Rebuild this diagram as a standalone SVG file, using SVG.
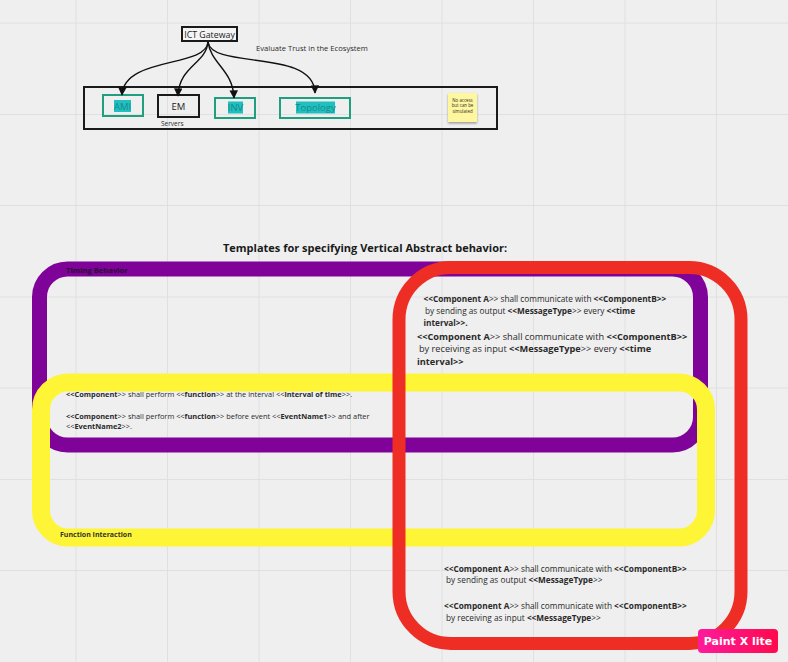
<svg xmlns="http://www.w3.org/2000/svg" width="788" height="662" viewBox="0 0 788 662">
<defs>
<style>
text{font-family:"Open Sans","Liberation Sans",sans-serif;fill:#2a2a2a}
.b{font-weight:700}
.grid line{stroke:#e0e0e0;stroke-width:1}
.conn path{fill:none;stroke:#111;stroke-width:1.4}
.teal{fill:none;stroke:#1f9e80;stroke-width:2}
.hl{fill:#20c0c0}
.tt{fill:#198a8a}
.t8{font-size:8.25px}
.t9{font-size:9.2px}
.t65{font-size:7.4px}
</style>
<marker id="ah" viewBox="0 0 10 10" refX="9" refY="5" markerWidth="12" markerHeight="8.5" markerUnits="userSpaceOnUse" orient="auto">
<path d="M0,0 L10,5 L0,10 z" fill="#111"/>
</marker>
<linearGradient id="pk" x1="0" y1="0" x2="1" y2="0">
<stop offset="0" stop-color="#ff1a9c"/>
<stop offset="1" stop-color="#ff0a4e"/>
</linearGradient>
<filter id="sh" x="-20%" y="-20%" width="140%" height="150%">
<feDropShadow dx="0" dy="1.5" stdDeviation="1" flood-color="#000" flood-opacity="0.35"/>
</filter>
</defs>
<rect width="788" height="662" fill="#efefef"/>
<g class="grid">
<line x1="76" y1="0" x2="76" y2="662"/>
<line x1="167.5" y1="0" x2="167.5" y2="662"/>
<line x1="259" y1="0" x2="259" y2="662"/>
<line x1="350.5" y1="0" x2="350.5" y2="662"/>
<line x1="442" y1="0" x2="442" y2="662"/>
<line x1="533.5" y1="0" x2="533.5" y2="662"/>
<line x1="625" y1="0" x2="625" y2="662"/>
<line x1="716.5" y1="0" x2="716.5" y2="662"/>
<line x1="0" y1="23" x2="788" y2="23"/>
<line x1="0" y1="114.5" x2="788" y2="114.5"/>
<line x1="0" y1="205.5" x2="788" y2="205.5"/>
<line x1="0" y1="297" x2="788" y2="297"/>
<line x1="0" y1="388" x2="788" y2="388"/>
<line x1="0" y1="479.5" x2="788" y2="479.5"/>
<line x1="0" y1="570.5" x2="788" y2="570.5"/>
</g>

<g id="container">
<rect x="84" y="87" width="413" height="42" fill="none" stroke="#1a1a1a" stroke-width="2"/>
</g>
<g id="ict-gateway">
<rect x="182" y="27" width="55" height="14" fill="#f4f4f4" stroke="#1a1a1a" stroke-width="2"/>
<text x="209.5" y="37.5" font-size="8.8" text-anchor="middle" style="fill:#222">ICT Gateway</text>
</g>
<g id="label-evaluate">
<text x="256" y="51" font-size="7.6">Evaluate Trust in the Ecosystem</text>
</g>
<g id="ami">
<rect class="teal" x="103" y="95" width="40" height="21"/>
<rect class="hl" x="114" y="100" width="17" height="12"/>
<text class="tt" x="122.5" y="109.5" font-size="9.5" text-anchor="middle">AMI</text>
</g>
<g id="em">
<rect x="158" y="95" width="41" height="22" fill="none" stroke="#1a1a1a" stroke-width="2"/>
<text x="178.5" y="109.5" font-size="9.5" text-anchor="middle" style="fill:#222">EM</text>
<text x="161" y="125.5" font-size="6.5">Servers</text>
</g>
<g id="inv">
<rect class="teal" x="215" y="98" width="40" height="20"/>
<rect class="hl" x="228" y="101.5" width="15" height="12"/>
<text class="tt" x="235.5" y="111" font-size="9.5" text-anchor="middle">INV</text>
</g>
<g id="topology">
<rect class="teal" x="280" y="98" width="70" height="20"/>
<rect class="hl" x="296" y="101.5" width="39" height="12"/>
<text class="tt" x="315.5" y="111" font-size="9.5" text-anchor="middle">Topology</text>
</g>
<g id="sticky-note">
<rect x="448" y="93" width="29" height="29" fill="#fff6a0" filter="url(#sh)"/>
<text x="462.5" y="101.5" font-size="4.4" text-anchor="middle">No access</text>
<text x="462.5" y="107" font-size="4.4" text-anchor="middle">but can be</text>
<text x="462.5" y="112.5" font-size="4.4" text-anchor="middle">simulated</text>
</g>

<g class="conn" id="connectors">
<path d="M208,42 C206,68 124,56 122,95" marker-end="url(#ah)"/>
<path d="M208,42 C206,64 179,66 178,96" marker-end="url(#ah)"/>
<path d="M208,42 C211,64 233,70 234,98" marker-end="url(#ah)"/>
<path d="M208,42 C212,70 314,48 315,93" marker-end="url(#ah)"/>
</g>

<g id="title">
<text class="b" x="365" y="251.5" font-size="11" text-anchor="middle" style="fill:#1a1a1a">Templates for specifying Vertical Abstract behavior:</text>
</g>

<g id="timing-behavior">
<rect x="39.5" y="269" width="661" height="176" rx="28" fill="none" stroke="#7f0399" stroke-width="15"/>
<text class="b" x="66" y="272.5" font-size="7.6" style="fill:#2a1030">Timing Behavior</text>
</g>

<g id="function-interaction">
<rect x="41" y="382.5" width="665" height="155" rx="27" fill="none" stroke="#fdf536" stroke-width="18"/>
<text class="b" x="60" y="537" font-size="7" style="fill:#333">Function Interaction</text>
<text class="t65" x="66" y="397"><tspan class="b">&lt;&lt;Component</tspan>&gt;&gt; shall perform &lt;&lt;<tspan class="b">function</tspan>&gt;&gt; at the interval &lt;&lt;<tspan class="b">interval of time</tspan>&gt;&gt;.</text>
<text class="t65" x="66" y="418.5"><tspan class="b">&lt;&lt;Component</tspan>&gt;&gt; shall perform &lt;&lt;<tspan class="b">function</tspan>&gt;&gt; before event &lt;&lt;<tspan class="b">EventName1</tspan>&gt;&gt; and after</text>
<text class="t65" x="66" y="429">&lt;&lt;<tspan class="b">EventName2</tspan>&gt;&gt;.</text>
</g>

<g id="communication">
<rect x="399" y="267.5" width="342" height="376" rx="52" fill="none" stroke="#ee2d24" stroke-width="13"/>
<text class="t8" x="423.5" y="302"><tspan class="b">&lt;&lt;Component A</tspan>&gt;&gt; shall communicate with <tspan class="b">&lt;&lt;ComponentB&gt;&gt;</tspan></text>
<text class="t8" x="425" y="314"> by sending as output <tspan class="b">&lt;&lt;MessageType</tspan>&gt;&gt; every <tspan class="b">&lt;&lt;time</tspan></text>
<text class="t8 b" x="423.5" y="325.5">interval&gt;&gt;.</text>
<text class="t9" x="417" y="339.5"><tspan class="b">&lt;&lt;Component A</tspan>&gt;&gt; shall communicate with <tspan class="b">&lt;&lt;ComponentB&gt;&gt;</tspan></text>
<text class="t9" x="419" y="352"> by receiving as input <tspan class="b">&lt;&lt;MessageType</tspan>&gt;&gt; every <tspan class="b">&lt;&lt;time</tspan></text>
<text class="t9 b" x="417" y="365">interval&gt;&gt;</text>
<text class="t8" x="444" y="571.5"><tspan class="b">&lt;&lt;Component A</tspan>&gt;&gt; shall communicate with <tspan class="b">&lt;&lt;ComponentB&gt;&gt;</tspan></text>
<text class="t8" x="446" y="583"> by sending as output <tspan class="b">&lt;&lt;MessageType</tspan>&gt;&gt;</text>
<text class="t8" x="444" y="608.5"><tspan class="b">&lt;&lt;Component A</tspan>&gt;&gt; shall communicate with <tspan class="b">&lt;&lt;ComponentB&gt;&gt;</tspan></text>
<text class="t8" x="446" y="620.5"> by receiving as input <tspan class="b">&lt;&lt;MessageType</tspan>&gt;&gt;</text>
</g>

<g id="badge">
<rect x="698" y="629" width="80" height="24" rx="4" fill="url(#pk)"/>
<text x="738" y="645" font-size="11" text-anchor="middle" style="font-family:'DejaVu Sans',sans-serif;font-weight:700;fill:#fff">Paint X lite</text>
</g>
</svg>
